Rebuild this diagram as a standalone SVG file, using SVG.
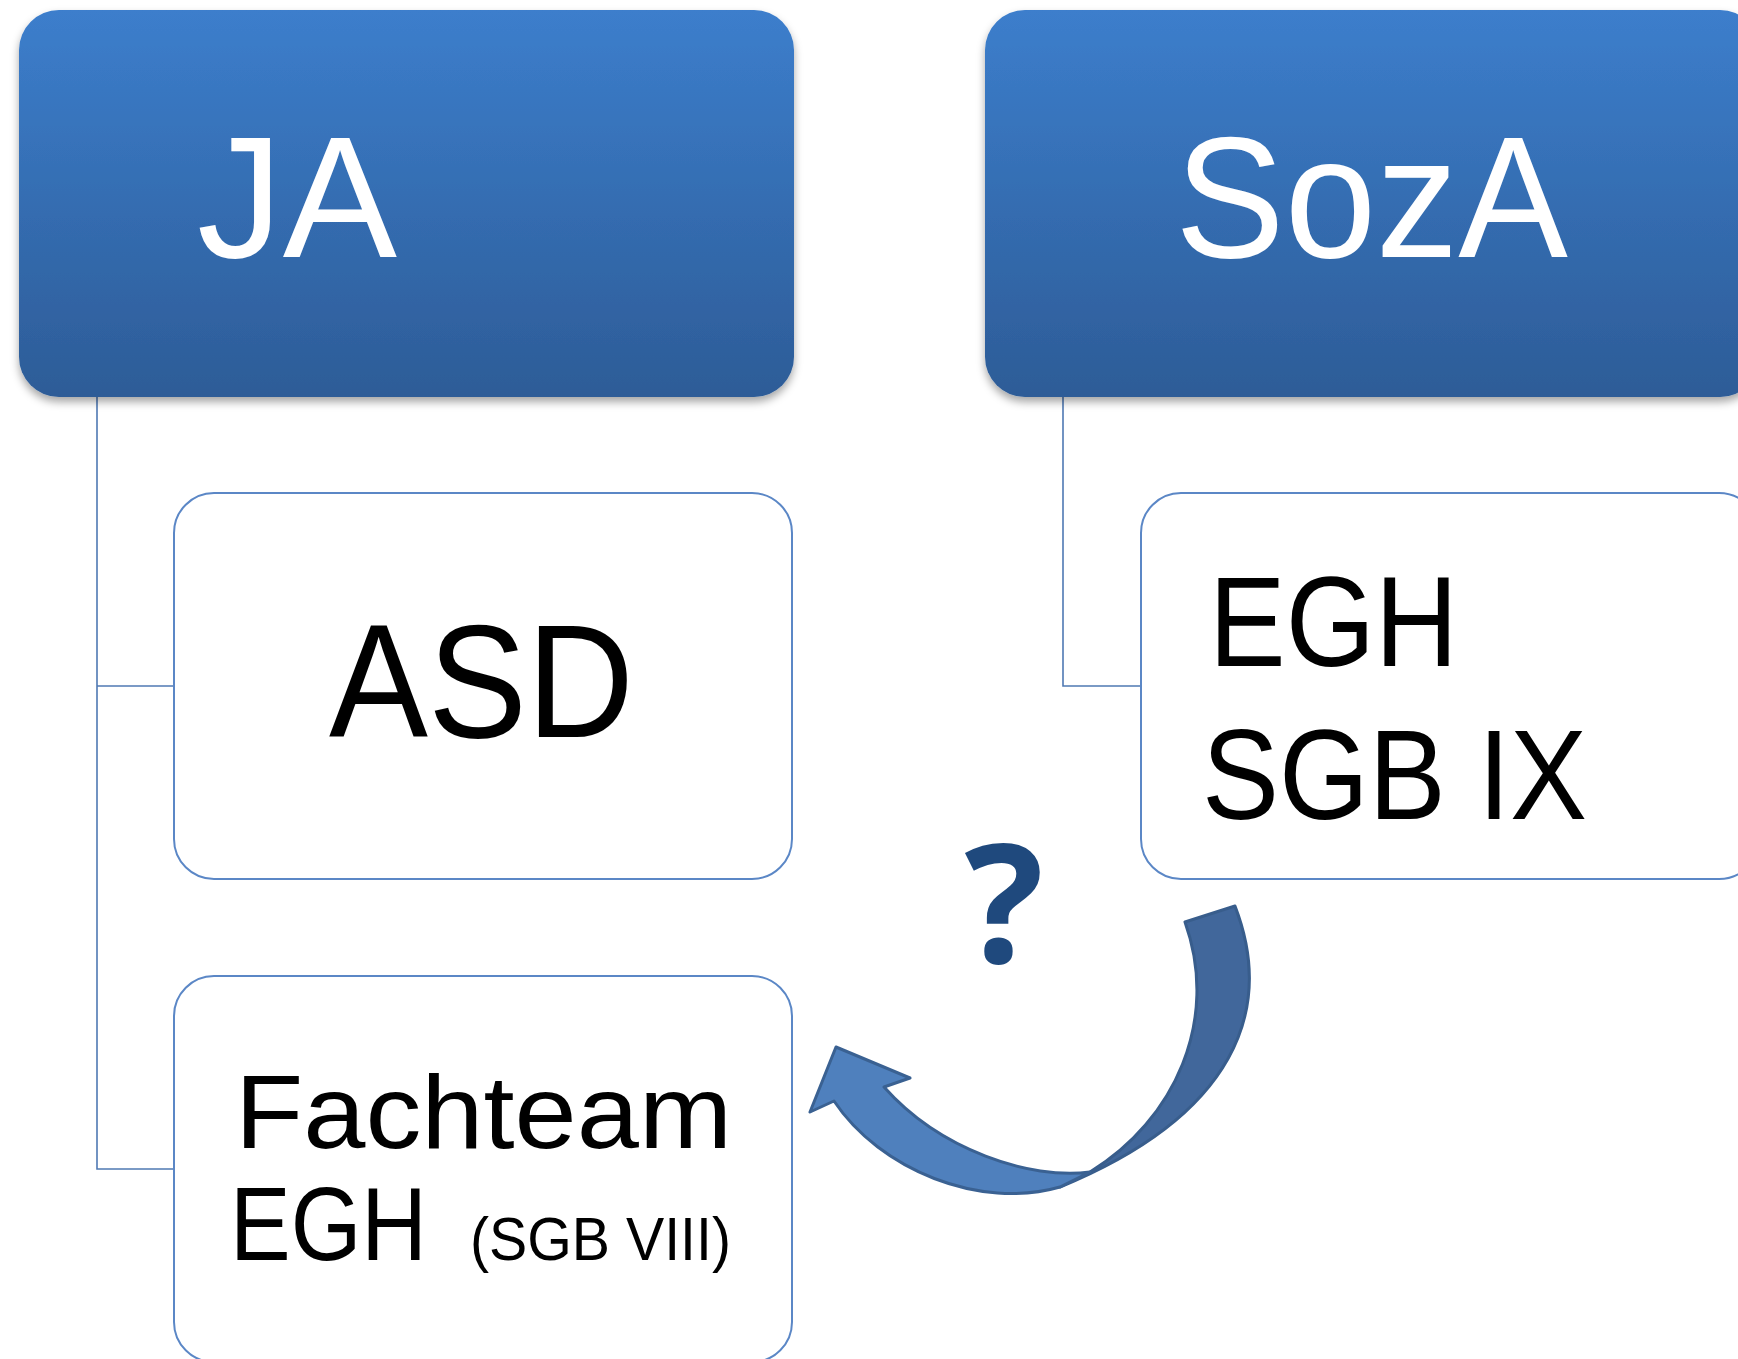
<svg xmlns="http://www.w3.org/2000/svg" width="1738" height="1359" viewBox="0 0 1738 1359">
<style>
.hdr{fill:url(#hg);filter:url(#sh)}
.box{fill:#ffffff;stroke:#5B87C6;stroke-width:2}
.ln{fill:none;stroke:#4F79B3;stroke-width:1.6}
.wt{font-family:"Liberation Sans",Arial,sans-serif;fill:#ffffff}
.bt{font-family:"Liberation Sans",Arial,sans-serif;fill:#000000}
</style>
<defs>
<linearGradient id="hg" x1="0" y1="0" x2="0" y2="1">
<stop offset="0" stop-color="#3C7ECC"/>
<stop offset="1" stop-color="#2D5C97"/>
</linearGradient>
<filter id="sh" x="-5%" y="-5%" width="110%" height="115%">
<feDropShadow dx="0" dy="5" stdDeviation="4" flood-color="#000000" flood-opacity="0.35"/>
</filter>
</defs>
<rect width="1738" height="1359" fill="#ffffff"/>
<g id="connectors">
<polyline class="ln" points="97,397 97,1169 174,1169"/>
<line class="ln" x1="97" y1="686" x2="174" y2="686"/>
<polyline class="ln" points="1063,397 1063,686 1141,686"/>
</g>
<g id="node-ja">
<rect class="hdr" x="19" y="10" width="775" height="387" rx="40" ry="40"/>
<text class="wt" x="197" y="257" font-size="173" textLength="200" lengthAdjust="spacingAndGlyphs">JA</text>
</g>
<g id="node-soza">
<rect class="hdr" x="985" y="10" width="775" height="387" rx="40" ry="40"/>
<text class="wt" x="1175" y="257" font-size="173" textLength="393" lengthAdjust="spacingAndGlyphs">SozA</text>
</g>
<g id="node-asd">
<rect class="box" x="174" y="493" width="618" height="386" rx="40" ry="40"/>
<text class="bt" x="329" y="737" font-size="162" textLength="305" lengthAdjust="spacingAndGlyphs">ASD</text>
</g>
<g id="node-egh">
<rect class="box" x="1141" y="493" width="618" height="386" rx="40" ry="40"/>
<text class="bt" x="1209" y="666" font-size="128" textLength="249" lengthAdjust="spacingAndGlyphs">EGH</text>
<text class="bt" x="1202" y="819" font-size="128" textLength="385" lengthAdjust="spacingAndGlyphs">SGB IX</text>
</g>
<g id="node-fachteam">
<rect class="box" x="174" y="976" width="618" height="386" rx="40" ry="40"/>
<text class="bt" x="235" y="1148" font-size="103" textLength="497" lengthAdjust="spacingAndGlyphs">Fachteam</text>
<text class="bt" x="230" y="1260" font-size="103" textLength="197" lengthAdjust="spacingAndGlyphs">EGH</text>
<text class="bt" x="470" y="1260" font-size="62" textLength="261" lengthAdjust="spacingAndGlyphs">(SGB VIII)</text>
</g>
<g id="arrow">
<path d="M1185,922 L1235,906 C1275,1010 1235,1115 1060,1187 L1090,1172 C1175,1120 1220,1020 1185,922 Z" fill="#41679B" stroke="#385D8C" stroke-width="3" stroke-linejoin="round"/>
<path d="M1090,1172 C1030,1180 940,1150 884,1087 L910,1078 L836,1047 L810,1112 L834,1101 C880,1170 980,1210 1060,1187 Z" fill="#4F80BD" stroke="#3A6192" stroke-width="3" stroke-linejoin="round"/>
</g>
<g id="question">
<text x="1004" y="963" font-family="'Open Sans','Liberation Sans',sans-serif" font-weight="bold" font-size="166" fill="#1F497D" text-anchor="middle">?</text>
</g>
</svg>
